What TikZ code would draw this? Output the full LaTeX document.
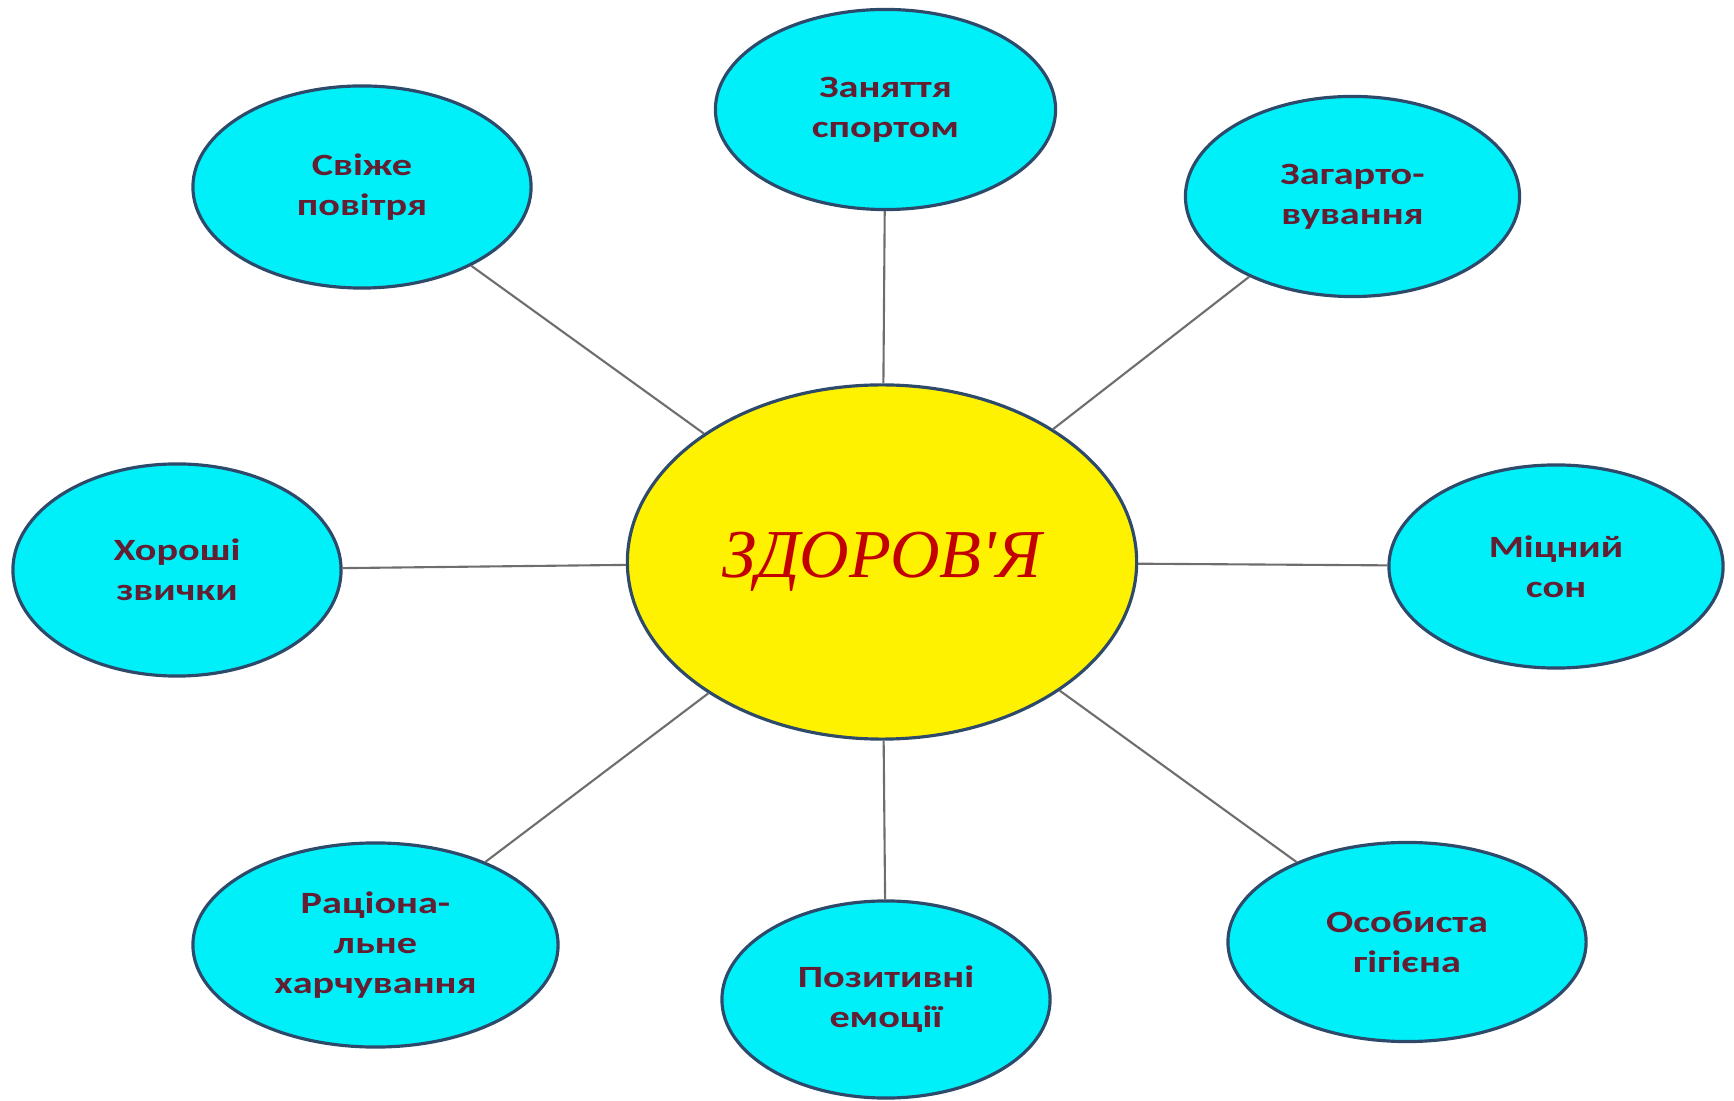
\documentclass[tikz,border=0pt]{standalone}
\usepackage{fontspec}
\usetikzlibrary{shapes.geometric}
\newfontfamily\labelfont[FakeStretch=1.3]{Carlito}
\newfontfamily\titlefont{Liberation Serif}
\definecolor{labeltext}{RGB}{100,30,50}
\definecolor{rim}{RGB}{46,74,107}
\definecolor{cyanfill}{RGB}{0,240,250}
\definecolor{spokegray}{RGB}{110,110,110}
\definecolor{titlered}{RGB}{195,0,0}
\tikzset{
  bubble/.style={ellipse,draw=rim,fill=cyanfill,line width=0.9pt,inner sep=0pt,align=center,
    text=labeltext,font=\labelfont\bfseries\fontsize{8.8}{11.3}\selectfont},
  spoke/.style={draw=spokegray,line width=0.6pt}
}
\begin{document}
\begin{tikzpicture}[x=0.01cm,y=-0.01cm]
   \useasboundingbox (0,0) rectangle (1734,1101);
   %center
   \node[ellipse,draw=rim,fill=yellow,line width=0.9pt,inner sep=0pt,minimum width=5.09cm,minimum height=3.54cm,
     text=titlered,font=\titlefont\itshape\fontsize{19.5}{23}\selectfont] (health) at (882,562) {ЗДОРОВ'Я};
   %around
   \node[bubble,minimum width=3.40cm,minimum height=2.00cm] (sport) at (885.5,109.5) {Заняття\\спортом};
   \node[bubble,minimum width=3.38cm,minimum height=2.02cm] (air) at (362,187) {Свіже\\повітря};
   \node[bubble,minimum width=3.34cm,minimum height=2.00cm] (harden) at (1352.5,196.5) {Загарто-\\вування};
   \node[bubble,minimum width=3.28cm,minimum height=2.12cm] (habits) at (177,570) {Хороші\\звички};
   \node[bubble,minimum width=3.34cm,minimum height=2.03cm] (sleep) at (1556,566.5) {Міцний\\сон};
   \node[bubble,minimum width=3.65cm,minimum height=2.04cm] (food) at (375.5,945) {Раціона-\\льне\\харчування};
   \node[bubble,minimum width=3.28cm,minimum height=1.97cm] (emotion) at (886,999.5) {Позитивні\\емоції};
   \node[bubble,minimum width=3.58cm,minimum height=1.99cm] (hygiene) at (1407,942) {Особиста\\гігієна};
   %spokes
   \draw[spoke] (health) -- (sport);
   \draw[spoke] (health) -- (air);
   \draw[spoke] (health) -- (harden);
   \draw[spoke] (health) -- (habits);
   \draw[spoke] (health) -- (sleep);
   \draw[spoke] (health) -- (food);
   \draw[spoke] (health) -- (emotion);
   \draw[spoke] (health) -- (hygiene);
\end{tikzpicture}
\end{document}
